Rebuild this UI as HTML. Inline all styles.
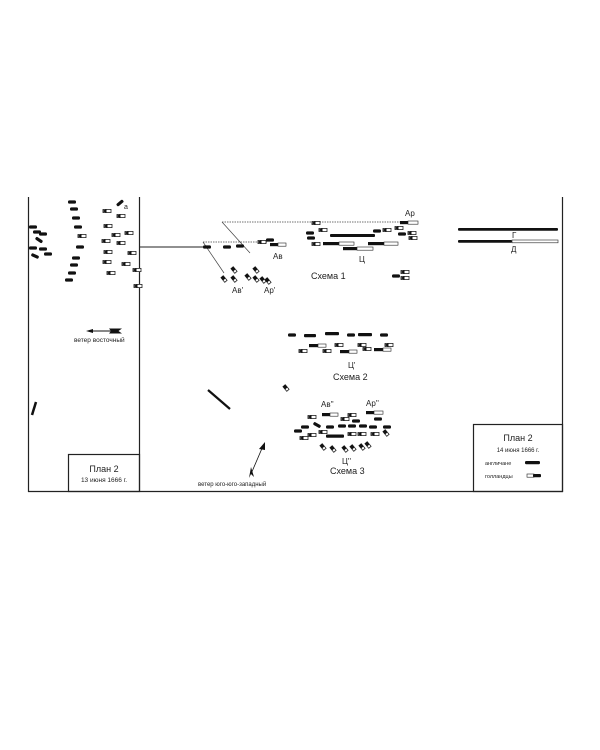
<!DOCTYPE html>
<html><head><meta charset="utf-8"><style>
html,body{margin:0;padding:0;background:#fff;}
svg{display:block;}
text{font-family:"Liberation Sans",sans-serif;fill:#222;}
</style></head><body>
<svg width="600" height="750" viewBox="0 0 600 750" xmlns="http://www.w3.org/2000/svg">
<defs>
<g id="e"><rect x="-4" y="-1.6" width="8" height="3.2" rx="1.4" fill="#111"/></g>
<g id="d"><rect x="-4" y="-1.6" width="8" height="3.2" fill="#fff" stroke="#222" stroke-width="0.8"/><path d="M-4.8 0 L-0.5 -1.9 L-0.5 1.9Z" fill="#111"/></g>
<g id="sd"><rect x="-1.5" y="-3" width="3" height="6" fill="#fff" stroke="#222" stroke-width="0.8" transform="rotate(-40)"/><rect x="-1.5" y="-3" width="3" height="3.5" fill="#111" transform="rotate(-40)"/></g>
</defs>
<g stroke="#222" stroke-width="1.2" fill="none">
<line x1="28.5" y1="197" x2="28.5" y2="492"/>
<line x1="28" y1="491.5" x2="563" y2="491.5"/>
<line x1="562.5" y1="197" x2="562.5" y2="492"/>
<line x1="139.5" y1="197" x2="139.5" y2="492"/>
<rect x="68.5" y="454.5" width="71" height="37"/>
<rect x="473.5" y="424.5" width="89" height="67"/>
</g>
<!-- left panel -->
<g>
<use href="#e" x="33" y="227"/><use href="#e" x="37" y="232"/><use href="#e" x="43" y="234"/>
<use href="#e" x="39" y="240" transform="rotate(35 39 240)"/><use href="#e" x="33" y="248"/><use href="#e" x="43" y="249"/>
<use href="#e" x="48" y="254"/><use href="#e" x="35" y="256" transform="rotate(25 35 256)"/>
<use href="#e" x="72" y="202"/><use href="#e" x="74" y="209"/><use href="#e" x="76" y="218"/><use href="#e" x="78" y="227"/>
<use href="#d" x="82" y="236"/><use href="#e" x="80" y="247"/><use href="#e" x="76" y="258"/><use href="#e" x="74" y="265"/>
<use href="#e" x="72" y="273"/><use href="#e" x="69" y="280"/>
<use href="#d" x="107" y="211"/><use href="#d" x="121" y="216"/><use href="#d" x="108" y="226"/><use href="#d" x="116" y="235"/>
<use href="#d" x="129" y="233"/><use href="#d" x="106" y="241"/><use href="#d" x="121" y="243"/><use href="#d" x="108" y="252"/>
<use href="#d" x="132" y="253"/><use href="#d" x="107" y="262"/><use href="#d" x="126" y="264"/><use href="#d" x="111" y="273"/>
<use href="#d" x="137" y="270"/><use href="#d" x="138" y="286"/>
<use href="#e" x="120" y="203" transform="rotate(-40 120 203)"/>
<text x="124" y="209" font-size="7">а</text>
<line x1="90" y1="331" x2="112" y2="331" stroke="#111" stroke-width="1"/>
<path d="M86 331 L93 329 L93 333Z" fill="#111"/>
<path d="M109 328.5 L122 328.5 L118.5 331 L122 333.5 L109 333.5 L111 331Z" fill="#111"/>
<text x="74" y="342" font-size="6.5">ветер восточный</text>
<line x1="32" y1="415" x2="36" y2="402" stroke="#111" stroke-width="2.5"/>
<text x="104" y="472" font-size="9" text-anchor="middle">План 2</text>
<text x="104" y="482" font-size="6.5" text-anchor="middle">13 июня 1666 г.</text>
</g>
<!-- schema 1 -->
<g stroke="#444" stroke-width="0.7" fill="none">
<line x1="140" y1="247" x2="203" y2="247" stroke="#222" stroke-width="1"/>
<line x1="203" y1="242" x2="268" y2="242" stroke-dasharray="1.5 1"/>
<line x1="222" y1="222" x2="410" y2="222" stroke-dasharray="1.5 1"/>
<line x1="222" y1="222" x2="250" y2="253"/>
<line x1="203" y1="242" x2="224" y2="273"/>
</g>
<use href="#e" x="207" y="247"/><use href="#e" x="227" y="247"/><use href="#e" x="240" y="246"/>
<use href="#d" x="262" y="242"/>
<rect x="270" y="243" width="8" height="3.2" fill="#111"/><rect x="278" y="243" width="8" height="3.2" fill="#fff" stroke="#222" stroke-width="0.6"/>
<use href="#e" x="270" y="240"/>
<text x="273" y="259" font-size="8">Ав</text>
<use href="#sd" x="234" y="270"/><use href="#sd" x="256" y="270"/><use href="#sd" x="224" y="279"/><use href="#sd" x="234" y="279"/>
<use href="#sd" x="248" y="277"/><use href="#sd" x="256" y="279"/><use href="#sd" x="263" y="280"/><use href="#sd" x="268" y="281"/>
<text x="232" y="293" font-size="8">Ав'</text><text x="264" y="293" font-size="8">Ар'</text>
<text x="405" y="216" font-size="8">Ар</text>
<rect x="400" y="221" width="8" height="3.2" fill="#111"/><rect x="408" y="221" width="10" height="3.2" fill="#fff" stroke="#222" stroke-width="0.6"/>
<use href="#d" x="316" y="223"/><use href="#d" x="323" y="230"/><use href="#e" x="310" y="233"/><use href="#e" x="311" y="238"/><use href="#d" x="316" y="244"/>
<rect x="330" y="234" width="45" height="3" rx="1" fill="#111"/>
<use href="#e" x="377" y="231"/><use href="#d" x="387" y="230"/><use href="#d" x="399" y="228"/><use href="#e" x="402" y="234"/><use href="#d" x="412" y="233"/><use href="#d" x="413" y="238"/>
<rect x="323" y="242" width="16" height="3.2" fill="#111"/><rect x="339" y="242" width="15" height="3.2" fill="#fff" stroke="#222" stroke-width="0.6"/>
<rect x="368" y="242" width="16" height="3.2" fill="#111"/><rect x="384" y="242" width="14" height="3.2" fill="#fff" stroke="#222" stroke-width="0.6"/>
<rect x="343" y="247" width="14" height="3.2" fill="#111"/><rect x="357" y="247" width="16" height="3.2" fill="#fff" stroke="#222" stroke-width="0.6"/>
<text x="359" y="262" font-size="8">Ц</text>
<text x="311" y="279" font-size="9">Схема 1</text>
<use href="#d" x="405" y="272"/><use href="#e" x="396" y="276"/><use href="#d" x="405" y="278"/>
<rect x="458" y="228" width="100" height="2.8" rx="1" fill="#111"/>
<text x="512" y="238" font-size="8">Г</text>
<rect x="458" y="240" width="54" height="2.8" rx="1" fill="#111"/><rect x="512" y="240" width="46" height="2.8" fill="#fff" stroke="#222" stroke-width="0.6"/>
<text x="511" y="252" font-size="8">Д</text>
<!-- schema 2 -->
<use href="#e" x="292" y="335"/><rect x="304" y="334" width="12" height="3.2" rx="1" fill="#111"/><rect x="325" y="332" width="14" height="3.2" rx="1" fill="#111"/>
<use href="#e" x="351" y="335"/><rect x="358" y="333" width="14" height="3.2" rx="1" fill="#111"/><use href="#e" x="384" y="335"/>
<rect x="309" y="344" width="9" height="3.2" fill="#111"/><rect x="318" y="344" width="8" height="3.2" fill="#fff" stroke="#222" stroke-width="0.6"/>
<use href="#d" x="339" y="345"/><use href="#d" x="362" y="345"/><use href="#d" x="389" y="345"/>
<rect x="374" y="348" width="9" height="3.2" fill="#111"/><rect x="383" y="348" width="8" height="3.2" fill="#fff" stroke="#222" stroke-width="0.6"/>
<use href="#d" x="303" y="351"/><use href="#d" x="327" y="351"/><use href="#d" x="367" y="349"/>
<rect x="340" y="350" width="9" height="3.2" fill="#111"/><rect x="349" y="350" width="8" height="3.2" fill="#fff" stroke="#222" stroke-width="0.6"/>
<text x="348" y="368" font-size="8">Ц'</text>
<text x="333" y="374" font-size="9" dy="6">Схема 2</text>
<!-- schema 3 -->
<line x1="208" y1="390" x2="230" y2="409" stroke="#111" stroke-width="2.2"/>
<use href="#sd" x="286" y="388"/>
<text x="321" y="407" font-size="8">Ав''</text><text x="366" y="406" font-size="8">Ар''</text>
<rect x="322" y="413" width="8" height="3.2" fill="#111"/><rect x="330" y="413" width="8" height="3.2" fill="#fff" stroke="#222" stroke-width="0.6"/>
<rect x="366" y="411" width="8" height="3.2" fill="#111"/><rect x="374" y="411" width="9" height="3.2" fill="#fff" stroke="#222" stroke-width="0.6"/>
<use href="#d" x="312" y="417"/><use href="#d" x="345" y="419"/><use href="#d" x="352" y="415"/><use href="#e" x="356" y="421"/><use href="#e" x="378" y="419"/>
<use href="#e" x="305" y="427"/><use href="#e" x="317" y="425" transform="rotate(30 317 425)"/><use href="#e" x="330" y="427"/><use href="#e" x="342" y="426"/>
<use href="#e" x="352" y="426"/><use href="#e" x="363" y="426"/><use href="#e" x="373" y="427"/><use href="#e" x="387" y="427"/>
<use href="#e" x="298" y="431"/><use href="#d" x="312" y="435"/><use href="#d" x="323" y="432"/>
<rect x="326" y="434.5" width="18" height="3.2" rx="1" fill="#111"/>
<use href="#d" x="352" y="434"/><use href="#d" x="362" y="434"/><use href="#d" x="375" y="434"/><use href="#sd" x="386" y="433"/>
<use href="#d" x="304" y="438"/>
<use href="#sd" x="323" y="447"/><use href="#sd" x="333" y="449"/><use href="#sd" x="345" y="449"/><use href="#sd" x="353" y="448"/><use href="#sd" x="362" y="447"/><use href="#sd" x="368" y="445"/>
<text x="342" y="464" font-size="8">Ц''</text>
<text x="330" y="474" font-size="9">Схема 3</text>
<line x1="251" y1="474" x2="263" y2="446" stroke="#111" stroke-width="0.8"/>
<path d="M265 442 L259 449 L265 450Z" fill="#111"/>
<path d="M249 478 L251 467 L254 477 L251 474Z" fill="#111"/>
<text x="198" y="486" font-size="6">ветер юго-юго-западный</text>
<!-- legend -->
<text x="518" y="441" font-size="9" text-anchor="middle">План 2</text>
<text x="518" y="452" font-size="6" text-anchor="middle">14 июня 1666 г.</text>
<text x="485" y="465" font-size="5.5">англичане</text>
<rect x="525" y="461" width="15" height="3.2" rx="1.3" fill="#111"/>
<text x="485" y="478" font-size="5.5">голландцы</text>
<rect x="527" y="474" width="7" height="3.2" fill="#fff" stroke="#222" stroke-width="0.6"/><rect x="533" y="474" width="8" height="3.2" rx="1" fill="#111"/>
</svg>
</body></html>
